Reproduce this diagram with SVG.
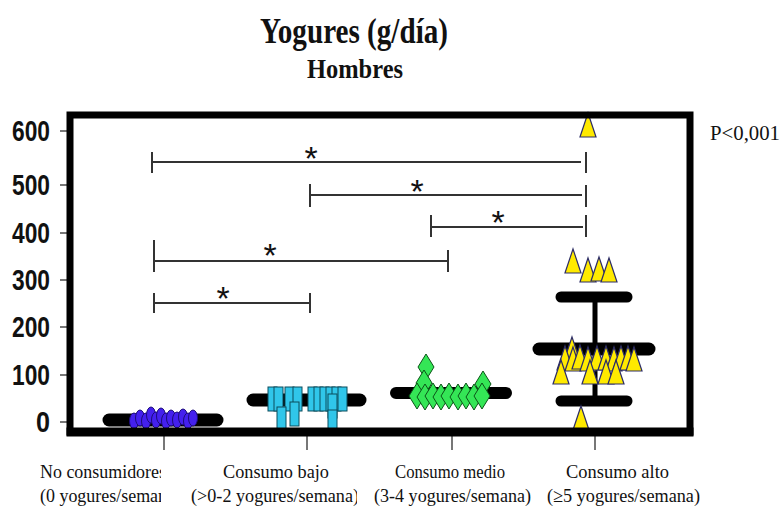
<svg xmlns="http://www.w3.org/2000/svg" width="783" height="509" viewBox="0 0 783 509">
  <defs>
    <style>
      .title { font-family: "Liberation Serif", "Times New Roman", serif; font-weight: bold; fill: #111; }
      .ylab { font-family: "Liberation Sans", Arial, sans-serif; font-weight: bold; font-size: 29px; fill: #111; }
      .xlab { font-family: "Liberation Serif", "Times New Roman", serif; font-size: 19px; fill: #111; }
      .pval { font-family: "Liberation Serif", "Times New Roman", serif; font-size: 22px; fill: #111; }
      .star { font-family: "Liberation Sans", Arial, sans-serif; font-size: 34px; fill: #111; text-anchor: middle; }
      .tick { stroke: #555; stroke-width: 1.6; }
      .bar { stroke: #000; stroke-linecap: round; fill: none; }
      .sig line { stroke: #333; stroke-width: 2; }
      .purple { fill: #4420ee; stroke: #1c0c78; stroke-width: 1; }
      .cyan { fill: #30c6ea; stroke: #0b4c5c; stroke-width: 1; }
      .green { fill: #34e656; stroke: #0c5418; stroke-width: 1; }
      .yellow { fill: #ffea00; stroke: #2c2c66; stroke-width: 1.2; }
    </style>
    <path id="tri" d="M0,0 L8,24 L-8,24 Z"/>
    <path id="dia" d="M0,-13 L8,0 L0,13 L-8,0 Z"/>
    <rect id="box" x="0" y="0" width="9" height="24"/>
    <clipPath id="clipCol1"><rect x="0" y="450" width="161" height="59"/></clipPath>
    <clipPath id="clipCol2"><rect x="180" y="450" width="177" height="59"/></clipPath>
  </defs>

  <rect width="783" height="509" fill="#fff"/>

  <!-- titles -->
  <g id="title">
    <text class="title" x="260" y="43" font-size="35" textLength="188" lengthAdjust="spacingAndGlyphs">Yogures (g/día)</text>
    <text class="title" x="307" y="78" font-size="28" textLength="96" lengthAdjust="spacingAndGlyphs">Hombres</text>
  </g>
  <text id="pvalue" class="pval" x="710" y="140" textLength="70" lengthAdjust="spacingAndGlyphs">P&lt;0,001</text>

  <!-- y axis -->
  <g id="y-axis">
    <line class="tick" x1="60" y1="131" x2="69" y2="131"/>
    <line class="tick" x1="60" y1="185" x2="69" y2="185"/>
    <line class="tick" x1="60" y1="233" x2="69" y2="233"/>
    <line class="tick" x1="60" y1="280" x2="69" y2="280"/>
    <line class="tick" x1="60" y1="327" x2="69" y2="327"/>
    <line class="tick" x1="60" y1="375" x2="69" y2="375"/>
    <line class="tick" x1="60" y1="422" x2="69" y2="422"/>
    <text class="ylab" x="12" y="141" textLength="38" lengthAdjust="spacingAndGlyphs">600</text>
    <text class="ylab" x="12" y="195" textLength="38" lengthAdjust="spacingAndGlyphs">500</text>
    <text class="ylab" x="12" y="243" textLength="38" lengthAdjust="spacingAndGlyphs">400</text>
    <text class="ylab" x="12" y="290" textLength="38" lengthAdjust="spacingAndGlyphs">300</text>
    <text class="ylab" x="12" y="337" textLength="38" lengthAdjust="spacingAndGlyphs">200</text>
    <text class="ylab" x="12" y="385" textLength="38" lengthAdjust="spacingAndGlyphs">100</text>
    <text class="ylab" x="36" y="432" textLength="14" lengthAdjust="spacingAndGlyphs">0</text>
  </g>

  <!-- x axis ticks -->
  <g id="x-axis">
    <line class="tick" x1="164" y1="436" x2="164" y2="450"/>
    <line class="tick" x1="307" y1="436" x2="307" y2="450"/>
    <line class="tick" x1="452" y1="436" x2="452" y2="450"/>
    <line class="tick" x1="595" y1="436" x2="595" y2="450"/>
  </g>

  <!-- category labels -->
  <g id="labels">
    <g clip-path="url(#clipCol1)">
      <text class="xlab" x="40" y="478" textLength="126" lengthAdjust="spacingAndGlyphs">No consumidores</text>
      <text class="xlab" x="40" y="502" textLength="141" lengthAdjust="spacingAndGlyphs">(0 yogures/semana)</text>
    </g>
    <text class="xlab" x="223" y="478" textLength="106" lengthAdjust="spacingAndGlyphs">Consumo bajo</text>
    <g clip-path="url(#clipCol2)">
      <text class="xlab" x="191" y="502" textLength="168" lengthAdjust="spacingAndGlyphs">(&gt;0-2 yogures/semana)</text>
    </g>
    <text class="xlab" x="395" y="478" textLength="110" lengthAdjust="spacingAndGlyphs">Consumo medio</text>
    <text class="xlab" x="374" y="502" textLength="157" lengthAdjust="spacingAndGlyphs">(3-4 yogures/semana)</text>
    <text class="xlab" x="566" y="478" textLength="103" lengthAdjust="spacingAndGlyphs">Consumo alto</text>
    <text class="xlab" x="547" y="502" textLength="153" lengthAdjust="spacingAndGlyphs">(≥5 yogures/semana)</text>
  </g>

  <!-- non-consumers -->
  <g id="no-consumidores">
    <line class="bar" x1="109" y1="420" x2="217" y2="420" stroke-width="13"/>
    <ellipse class="purple" cx="134" cy="421" rx="4.5" ry="8"/>
    <ellipse class="purple" cx="140" cy="418" rx="4.5" ry="8"/>
    <ellipse class="purple" cx="146" cy="421" rx="4.5" ry="8"/>
    <ellipse class="purple" cx="151" cy="415" rx="4.5" ry="8"/>
    <ellipse class="purple" cx="156" cy="420" rx="4.5" ry="8"/>
    <ellipse class="purple" cx="161" cy="416" rx="4.5" ry="8"/>
    <ellipse class="purple" cx="166" cy="421" rx="4.5" ry="8"/>
    <ellipse class="purple" cx="171" cy="418" rx="4.5" ry="8"/>
    <ellipse class="purple" cx="177" cy="420" rx="4.5" ry="8"/>
    <ellipse class="purple" cx="183" cy="417" rx="4.5" ry="8"/>
    <ellipse class="purple" cx="188" cy="421" rx="4.5" ry="8"/>
    <ellipse class="purple" cx="193" cy="418" rx="4.5" ry="8"/>
  </g>

  <!-- low consumption -->
  <g id="consumo-bajo">
    <line class="bar" x1="253" y1="400" x2="360" y2="400" stroke-width="13"/>
    <use href="#box" class="cyan" x="268" y="387"/>
    <use href="#box" class="cyan" x="274" y="387"/>
    <use href="#box" class="cyan" x="285" y="387"/>
    <use href="#box" class="cyan" x="293" y="387"/>
    <use href="#box" class="cyan" x="308" y="387"/>
    <use href="#box" class="cyan" x="314" y="387"/>
    <use href="#box" class="cyan" x="320" y="387"/>
    <use href="#box" class="cyan" x="326" y="387"/>
    <use href="#box" class="cyan" x="332" y="387"/>
    <use href="#box" class="cyan" x="338" y="387"/>
    <use href="#box" class="cyan" x="277" y="407" height="20"/>
    <use href="#box" class="cyan" x="290" y="402"/>
    <use href="#box" class="cyan" x="328" y="394"/>
    <use href="#box" class="cyan" x="328" y="410" height="18"/>
  </g>

  <!-- medium consumption -->
  <g id="consumo-medio">
    <line class="bar" x1="396" y1="393" x2="506" y2="393" stroke-width="12"/>
    <use href="#dia" class="green" x="426" y="367"/>
    <use href="#dia" class="green" x="424" y="383"/>
    <use href="#dia" class="green" x="483" y="384"/>
    <use href="#dia" class="green" x="417" y="396"/>
    <use href="#dia" class="green" x="425" y="397"/>
    <use href="#dia" class="green" x="433" y="396"/>
    <use href="#dia" class="green" x="441" y="397"/>
    <use href="#dia" class="green" x="449" y="396"/>
    <use href="#dia" class="green" x="458" y="397"/>
    <use href="#dia" class="green" x="466" y="396"/>
    <use href="#dia" class="green" x="474" y="397"/>
    <use href="#dia" class="green" x="482" y="396"/>
  </g>

  <!-- high consumption -->
  <g id="consumo-alto">
    <line class="bar" x1="595" y1="297" x2="595" y2="401" stroke-width="5"/>
    <line class="bar" x1="561" y1="297" x2="627" y2="297" stroke-width="11"/>
    <line class="bar" x1="539" y1="349" x2="649" y2="349" stroke-width="13"/>
    <line class="bar" x1="561" y1="401" x2="627" y2="401" stroke-width="11"/>
    <use href="#tri" class="yellow" x="588" y="113"/>
    <use href="#tri" class="yellow" x="573" y="249"/>
    <use href="#tri" class="yellow" x="588" y="258"/>
    <use href="#tri" class="yellow" x="599" y="257"/>
    <use href="#tri" class="yellow" x="609" y="258"/>
    <use href="#tri" class="yellow" x="572" y="337"/>
    <use href="#tri" class="yellow" x="565" y="346"/>
    <use href="#tri" class="yellow" x="573" y="347"/>
    <use href="#tri" class="yellow" x="580" y="345"/>
    <use href="#tri" class="yellow" x="588" y="347"/>
    <use href="#tri" class="yellow" x="597" y="346"/>
    <use href="#tri" class="yellow" x="606" y="346"/>
    <use href="#tri" class="yellow" x="614" y="347"/>
    <use href="#tri" class="yellow" x="621" y="346"/>
    <use href="#tri" class="yellow" x="628" y="346"/>
    <use href="#tri" class="yellow" x="634" y="347"/>
    <use href="#tri" class="yellow" x="561" y="360"/>
    <use href="#tri" class="yellow" x="590" y="360"/>
    <use href="#tri" class="yellow" x="606" y="360"/>
    <use href="#tri" class="yellow" x="616" y="360"/>
    <use href="#tri" class="yellow" x="581" y="406"/>
  </g>

  <!-- significance brackets -->
  <g id="connectors" class="sig">
    <line x1="152" y1="162" x2="581" y2="162"/>
    <line x1="152" y1="152" x2="152" y2="173"/>
    <line x1="586" y1="152" x2="586" y2="173"/>
    <line x1="310" y1="195" x2="582" y2="195"/>
    <line x1="310" y1="184" x2="310" y2="207"/>
    <line x1="586" y1="185" x2="586" y2="207"/>
    <line x1="431" y1="227" x2="583" y2="227"/>
    <line x1="431" y1="215" x2="431" y2="237"/>
    <line x1="586" y1="215" x2="586" y2="237"/>
    <line x1="154" y1="261" x2="448" y2="261"/>
    <line x1="154" y1="240" x2="154" y2="272"/>
    <line x1="448" y1="250" x2="448" y2="272"/>
    <line x1="154" y1="303" x2="310" y2="303"/>
    <line x1="154" y1="293" x2="154" y2="313"/>
    <line x1="310" y1="293" x2="310" y2="313"/>
  </g>
  <g id="asterisks">
    <text class="star" x="311" y="170">*</text>
    <text class="star" x="417" y="203">*</text>
    <text class="star" x="498" y="234">*</text>
    <text class="star" x="270" y="267">*</text>
    <text class="star" x="223" y="310">*</text>
  </g>

  <!-- plot frame -->
  <g id="frame" fill="none" stroke="#000">
    <rect x="70" y="115" width="620" height="317" stroke-width="7"/>
    <line x1="66.5" y1="432" x2="693.5" y2="432" stroke-width="9"/>
  </g>
</svg>
